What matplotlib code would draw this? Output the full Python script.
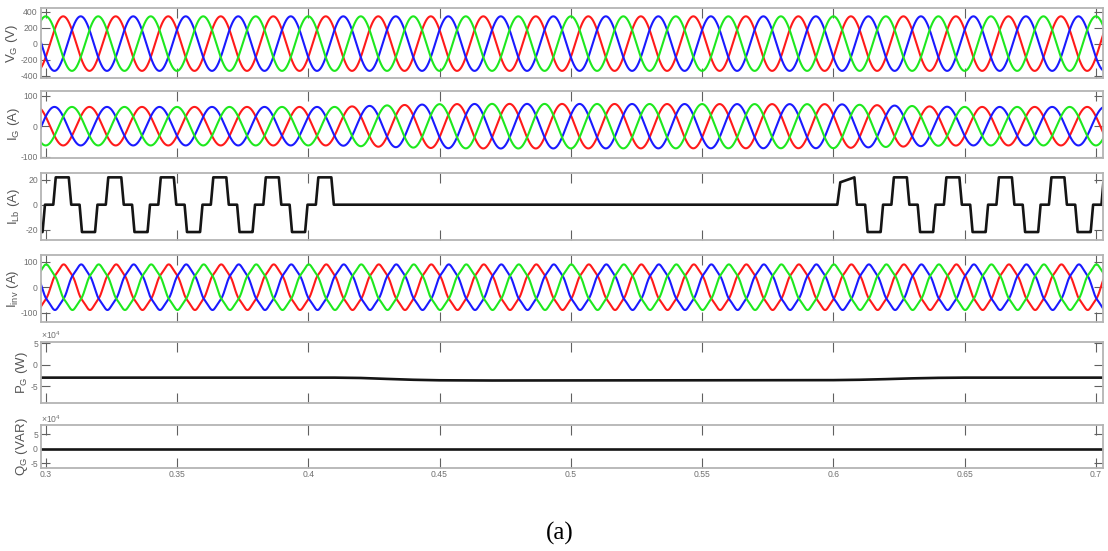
import numpy as np
import matplotlib
matplotlib.use("Agg")
import matplotlib.pyplot as plt

plt.rcParams['font.family'] = ['Liberation Sans', 'DejaVu Sans']
plt.rcParams['mathtext.fontset'] = 'custom'
plt.rcParams['mathtext.rm'] = 'Liberation Sans'
plt.rcParams['mathtext.it'] = 'Liberation Sans'

# ---------------- data ----------------
freq = 50.0                      # Hz
phase_colors = ['#ff1a1a', '#1a1aff', '#1ee81e']   # phase a, b, c

vg_amp = 340.0
vg_phase_deg = [-30.0, -150.0, 90.0]

ig_phase_deg = [150.0, 30.0, -90.0]
ig_env_t = [0.298, 0.41, 0.43, 0.45, 0.47, 0.60, 0.62, 0.64, 0.65, 0.703]
ig_env_a = [63.0, 63.0, 68.0, 72.0, 73.0, 72.0, 68.0, 64.0, 63.0, 63.0]

iinv_amp = 85.0
iinv_phase_deg = [-33.5, -153.5, 86.5]
iinv_h5 = 0.05

# I_Lb : one period template (ms relative to positive plateau centre), amps
ilb_tpl_ms = [-10.0, -7.5, -6.6, -3.4, -2.5, 2.5, 3.4, 6.6, 7.5, 10.0]
ilb_tpl_a = [-22.0, -22.0, 0.0, 0.0, 22.0, 22.0, 0.0, 0.0, -22.0, -22.0]
ilb_center1 = 0.3063            # first plateau centre (first run)
ilb_stop = 0.4097               # current stops after this
ilb_center2 = 0.6055            # plateau centre after restart
ilb_restart_t = [0.6015, 0.6026, 0.6080]
ilb_restart_a = [0.0, 18.0, 22.0]

pg_t = [0.298, 0.41, 0.42, 0.43, 0.44, 0.45, 0.47, 0.55, 0.60, 0.61, 0.62,
        0.63, 0.64, 0.65, 0.703]
pg_v = [-3.0e4, -3.0e4, -3.08e4, -3.3e4, -3.5e4, -3.62e4, -3.67e4, -3.62e4,
        -3.58e4, -3.5e4, -3.35e4, -3.17e4, -3.05e4, -3.0e4, -3.0e4]

qg_t = [0.298, 0.703]
qg_v = [0.0, 0.0]

xticks = [0.3, 0.35, 0.4, 0.45, 0.5, 0.55, 0.6, 0.65, 0.7]
xtick_labels = ['0.3', '0.35', '0.4', '0.45', '0.5', '0.55', '0.6', '0.65', '0.7']
xlim = (0.2981, 0.7028)

# ---------------- signals ----------------
t = np.linspace(xlim[0], xlim[1], 12000)
w = 2 * np.pi * freq

vg = [vg_amp * np.sin(w * t + np.deg2rad(p)) for p in vg_phase_deg]
ig_env = np.interp(t, ig_env_t, ig_env_a)
ig = [ig_env * np.sin(w * t + np.deg2rad(p)) for p in ig_phase_deg]
iinv = [iinv_amp * (np.sin(w * t + np.deg2rad(p))
                    + iinv_h5 * np.sin(5 * (w * t + np.deg2rad(p))))
        for p in iinv_phase_deg]

period = 1.0 / freq
tpl_s = np.array(ilb_tpl_ms) * 1e-3


def ilb_periodic(tt, centre):
    rel = np.mod(tt - centre + period / 2, period) - period / 2
    return np.interp(rel, tpl_s, ilb_tpl_a)


ilb = np.zeros_like(t)
m1 = t <= ilb_stop
ilb[m1] = ilb_periodic(t[m1], ilb_center1)
m2 = (t >= ilb_restart_t[0]) & (t <= ilb_restart_t[-1])
ilb[m2] = np.interp(t[m2], ilb_restart_t, ilb_restart_a)
m3 = t > ilb_restart_t[-1]
ilb[m3] = ilb_periodic(t[m3], ilb_center2)

# ---------------- figure ----------------
W, H = 1108, 551
fig = plt.figure(figsize=(W / 100, H / 100), dpi=100)

left_px, right_px = 40.7, 1103.3
panels_px = [(8.3, 77.7), (90.7, 158.3), (173.0, 239.5), (255.0, 321.7),
             (341.7, 403.3), (425.0, 467.7)]
ylims = [(-425, 440), (-105, 116), (-28.0, 25.5), (-135, 126),
         (-9.0e4, 5.4e4), (-6.5e4, 8.2e4)]
yticks = [[-400, -200, 0, 200, 400], [-100, 0, 100], [-20, 0, 20],
          [-100, 0, 100], [-5e4, 0, 5e4], [-5e4, 0, 5e4]]
yticklabels = [['-400', '-200', '0', '200', '400'], ['-100', '0', '100'],
               ['-20', '0', '20'], ['-100', '0', '100'], ['-5', '0', '5'],
               ['-5', '0', '5']]
ylabels = [r'V$_\mathregular{G}$ (V)', r'I$_\mathregular{G}$ (A)',
           r'I$_\mathregular{Lb}$ (A)', r'I$_\mathregular{inv}$ (A)',
           r'P$_\mathregular{G}$ (W)', r'Q$_\mathregular{G}$ (VAR)']
ylabel_x_px = [12.5, 14.5, 13.5, 13.0, 22.0, 22.0]

frame_col = '#b4b4b4'
tick_col = '#606060'
text_col = '#707070'

axes = []
for i, (top, bot) in enumerate(panels_px):
    ax = fig.add_axes([left_px / W, 1 - bot / H, (right_px - left_px) / W,
                       (bot - top) / H])
    ax.set_xlim(*xlim)
    ax.set_ylim(*ylims[i])
    ax.set_xticks(xticks)
    ax.set_yticks(yticks[i])
    ax.set_yticklabels(yticklabels[i])
    if i == len(panels_px) - 1:
        ax.set_xticklabels(xtick_labels)
    else:
        ax.set_xticklabels([])
    ax.tick_params(axis='both', direction='in', top=True, right=True,
                   color=tick_col, width=0.8, labelsize=6.2,
                   labelcolor=text_col, pad=2)
    ax.tick_params(axis='x', length=7.5)
    ax.tick_params(axis='y', length=6.5)
    for s in ax.spines.values():
        s.set_color(frame_col)
        s.set_linewidth(1.3)
    ax.set_ylabel(ylabels[i], fontsize=9.5, color='#555555')
    ax.yaxis.set_label_coords((ylabel_x_px[i] - left_px) / (right_px - left_px), 0.5)
    ax.yaxis.label.set_verticalalignment('center')
    axes.append(ax)

lw_c = 1.5
for k in range(3):
    axes[0].plot(t, vg[k], color=phase_colors[k], lw=lw_c)
    axes[1].plot(t, ig[k], color=phase_colors[k], lw=lw_c)
    axes[3].plot(t, iinv[k], color=phase_colors[k], lw=lw_c)

axes[2].plot(t, ilb, color='#151515', lw=1.9)
axes[4].plot(pg_t, pg_v, color='#151515', lw=1.9)
axes[5].plot(qg_t, qg_v, color='#151515', lw=1.9)

for ax in axes[4:]:
    ax.text(0.0, 1.01, r'$\times\mathregular{10^4}$', transform=ax.transAxes,
            ha='left', va='bottom', fontsize=6.2, color=text_col)

fig.text(560 / W, 1 - 533 / H, '(a)', ha='center', va='center',
         fontsize=18, family=['Liberation Serif', 'DejaVu Serif'], color='black')

fig.savefig('out.png', dpi=100)
